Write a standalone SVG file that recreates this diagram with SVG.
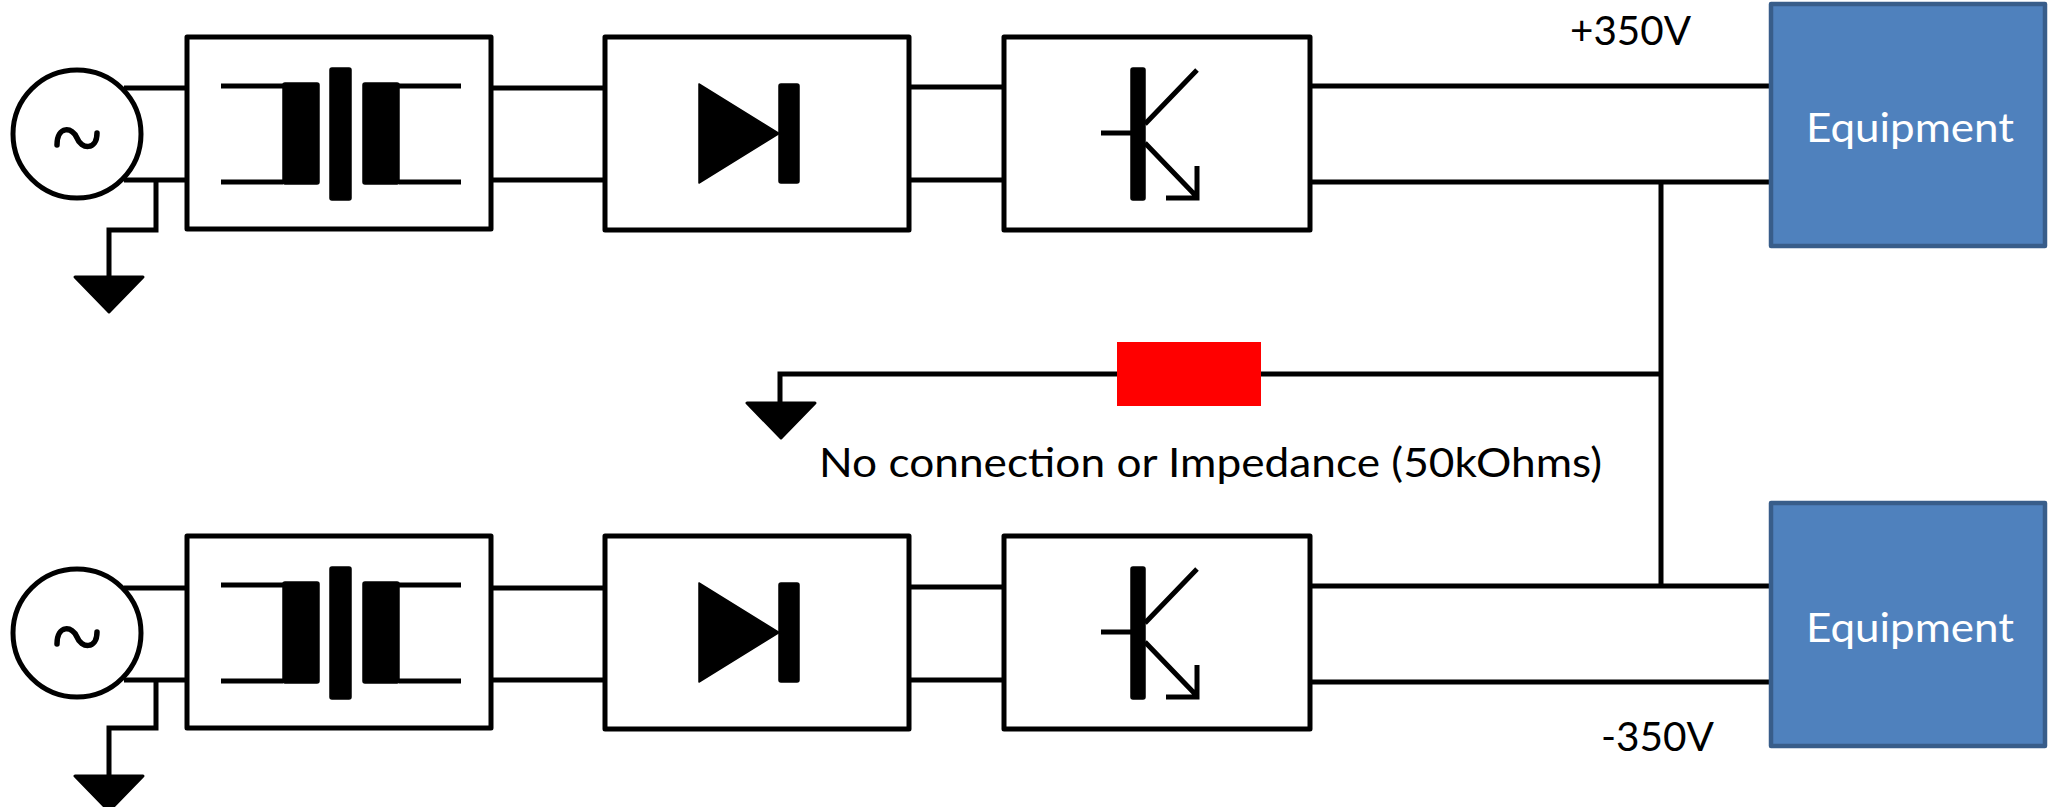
<svg xmlns="http://www.w3.org/2000/svg" xmlns:xlink="http://www.w3.org/1999/xlink" width="2048" height="807" viewBox="0 0 2048 807">
<style>
.blk{fill:#fff;stroke:#000;stroke-width:5;stroke-linejoin:round}
.w{fill:none;stroke:#000;stroke-width:5;stroke-linejoin:miter}
.sol{fill:#000;stroke:#000;stroke-width:1.5;stroke-linejoin:round}
.eq{fill:#4F81BD;stroke:#385D8A;stroke-width:4.5;stroke-linejoin:round}
.t{font-family:Lato,"Open Sans","Liberation Sans",sans-serif;font-size:41px;fill:#000}
.te{font-family:Lato,"Open Sans","Liberation Sans",sans-serif;font-size:41px;fill:#fff}
</style>
<defs>
<g id="gnd"><path d="M-34,0 L34,0 L0,35 Z" fill="#000" stroke="#000" stroke-width="3" stroke-linejoin="round"/></g>
<g id="src"><circle cx="0" cy="0" r="64" class="blk"/><path d="M-20,11 C-20,-9 -4,-7 0,4 C4,15 20,17 20,-1" fill="none" stroke="#000" stroke-width="5.5" stroke-linecap="round"/></g>
<g id="xfmr">
<path class="w" d="M34,49 H96 M34,145 H96 M212,49 H274 M212,145 H274"/>
<rect class="sol" x="96" y="46" width="36" height="101" rx="2"/>
<rect class="sol" x="143" y="31" width="21" height="132" rx="2"/>
<rect class="sol" x="176" y="46" width="36" height="101" rx="2"/>
</g>
<g id="diode">
<path class="sol" d="M94,47 L94,146 L174,96.5 Z"/>
<rect class="sol" x="174" y="47" width="20" height="99" rx="2"/>
</g>
<g id="igbt">
<rect class="sol" x="127" y="31" width="14" height="132" rx="2"/>
<path class="w" d="M97,96 H127 M141,87 L193,33 M141,106 L193,160 M193,129 V161 H162"/>
</g>
</defs>

<g id="connectors">
<path class="w" d="M124,88 H187 M124,180 H187 M156,180 V230 H109 V277"/>
<path class="w" d="M491,88 H605 M491,180 H605"/>
<path class="w" d="M909,87 H1004 M909,180 H1004"/>
<path class="w" d="M1310,86 H1771 M1310,182 H1771"/>
<path class="w" d="M124,588 H187 M124,680 H187 M156,680 V728 H109 V776"/>
<path class="w" d="M491,588 H605 M491,680 H605"/>
<path class="w" d="M909,587 H1004 M909,680 H1004"/>
<path class="w" d="M1310,586 H1774 M1310,682 H1774"/>
<path class="w" d="M1661,182 V586"/>
<path class="w" d="M1661,374 H780 V403"/>
</g>

<g id="source1"><use xlink:href="#src" x="77" y="134"/></g>
<g id="ground1"><use xlink:href="#gnd" x="109" y="277"/></g>
<g id="transformer1"><rect class="blk" x="187" y="37" width="304" height="192"/><use xlink:href="#xfmr" x="187" y="37"/></g>
<g id="rectifier1"><rect class="blk" x="605" y="37" width="304" height="193"/><use xlink:href="#diode" x="605" y="37"/></g>
<g id="inverter1"><rect class="blk" x="1004" y="37" width="306" height="193"/><use xlink:href="#igbt" x="1004" y="37"/></g>
<g id="equipment1"><rect class="eq" x="1771" y="4" width="274" height="242"/><text class="te" x="1910" y="142" text-anchor="middle" textLength="208" lengthAdjust="spacingAndGlyphs">Equipment</text></g>

<g id="source2"><use xlink:href="#src" x="77" y="633"/></g>
<g id="ground2"><use xlink:href="#gnd" x="109" y="776"/></g>
<g id="transformer2"><rect class="blk" x="187" y="536" width="304" height="192"/><use xlink:href="#xfmr" x="187" y="536"/></g>
<g id="rectifier2"><rect class="blk" x="605" y="536" width="304" height="193"/><use xlink:href="#diode" x="605" y="536"/></g>
<g id="inverter2"><rect class="blk" x="1004" y="536" width="306" height="193"/><use xlink:href="#igbt" x="1004" y="536"/></g>
<g id="equipment2"><rect class="eq" x="1771" y="503" width="274" height="243"/><text class="te" x="1910" y="642" text-anchor="middle" textLength="208" lengthAdjust="spacingAndGlyphs">Equipment</text></g>

<g id="impedance"><rect x="1117" y="342" width="144" height="64" fill="#FF0000"/></g>
<g id="ground3"><use xlink:href="#gnd" x="781" y="403"/></g>

<g id="labels">
<text class="t" x="1570" y="45" textLength="121" lengthAdjust="spacingAndGlyphs">+350V</text>
<text class="t" x="1601" y="751" textLength="113" lengthAdjust="spacingAndGlyphs">-350V</text>
<text class="t" x="819" y="477" textLength="783" lengthAdjust="spacingAndGlyphs">No connection or Impedance (50kOhms)</text>
</g>
</svg>
